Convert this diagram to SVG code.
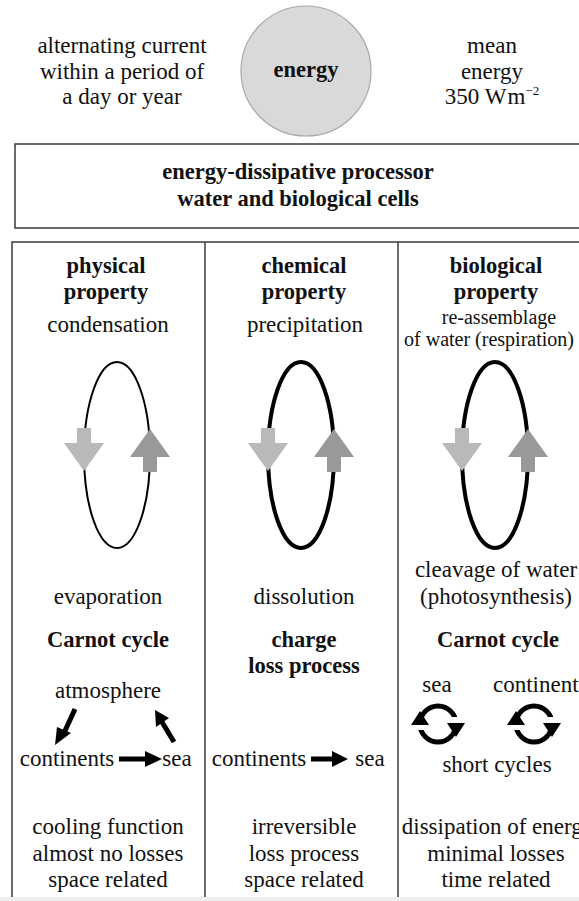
<svg xmlns="http://www.w3.org/2000/svg" width="579" height="901" viewBox="0 0 579 901">
<style>
text{font-family:'Liberation Serif','Times New Roman','DejaVu Serif',Times,serif;font-size:23px;fill:#111;text-anchor:middle}
.b{font-weight:bold;font-size:22.5px}
.s{font-size:20px}
.frame{fill:none;stroke:#3a3a3a;stroke-width:1.5}
.loop{fill:none;stroke:#000}
.dn{fill:#b9b9b9}
.up{fill:#999}
.arr{stroke:#000;stroke-width:5;fill:none}
.head{fill:#000}
.cyc{fill:none;stroke:#000;stroke-width:5}
</style>
<rect width="579" height="901" fill="#fff"/>

<g id="left-text">
<text x="122" y="53">alternating current</text>
<text x="122" y="79">within a period of</text>
<text x="122" y="104">a day or year</text>
</g>
<g id="energy">
<circle cx="306" cy="71" r="65" fill="#d9d9d9" stroke="#a8a8a8" stroke-width="1.2"/>
<text class="b" x="306" y="77">energy</text>
</g>
<g id="right-text">
<text x="492" y="53">mean</text>
<text x="492" y="79">energy</text>
<text x="492" y="104">350 W<tspan dx="1">m</tspan><tspan font-size="13" dy="-9">−2</tspan></text>
</g>

<g id="processor">
<rect class="frame" x="15" y="144" width="580" height="84"/>
<text class="b" x="298" y="179">energy-dissipative processor</text>
<text class="b" x="298" y="206">water and biological cells</text>
</g>

<g id="table">
<rect class="frame" x="12" y="242" width="600" height="680"/>
<line class="frame" x1="205" y1="242" x2="205" y2="901"/>
<line class="frame" x1="398" y1="242" x2="398" y2="901"/>
<rect x="0" y="897" width="579" height="4" fill="#eeeeee"/>
</g>

<g id="physical">
<text class="b" x="106" y="273">physical</text>
<text class="b" x="106" y="299">property</text>
<text x="108" y="332">condensation</text>
<ellipse class="loop" cx="117" cy="455" rx="33" ry="93" stroke-width="2"/>
<polygon class="dn" points="77,428 91,428 91,443 104,443 84,471 64,443 77,443"/>
<polygon class="up" points="150,429 170,457 157,457 157,472 143,472 143,457 130,457"/>
<text x="108" y="604">evaporation</text>
<text class="b" x="108" y="647">Carnot cycle</text>
<text x="108" y="698">atmosphere</text>
<text x="67" y="766">continents</text>
<text x="177" y="766">sea</text>
<text x="108" y="834">cooling function</text>
<text x="108" y="861">almost no losses</text>
<text x="108" y="887">space related</text>
</g>

<g id="chemical">
<text class="b" x="304" y="273">chemical</text>
<text class="b" x="304" y="299">property</text>
<text x="305" y="332">precipitation</text>
<ellipse class="loop" cx="301" cy="455" rx="33" ry="93" stroke-width="4"/>
<polygon class="dn" points="261,428 275,428 275,443 288,443 268,471 248,443 261,443"/>
<polygon class="up" points="334,429 354,457 341,457 341,472 327,472 327,457 314,457"/>
<text x="304" y="604">dissolution</text>
<text class="b" x="304" y="647">charge</text>
<text class="b" x="304" y="673">loss process</text>
<text x="259" y="766">continents</text>
<text x="370" y="766">sea</text>
<text x="304" y="834">irreversible</text>
<text x="304" y="861">loss process</text>
<text x="304" y="887">space related</text>
</g>

<g id="biological">
<text class="b" x="496" y="273">biological</text>
<text class="b" x="496" y="299">property</text>
<text class="s" x="499" y="324">re-assemblage</text>
<text class="s" x="489" y="346">of water (respiration)</text>
<ellipse class="loop" cx="495" cy="455" rx="33" ry="93" stroke-width="4"/>
<polygon class="dn" points="455,428 469,428 469,443 482,443 462,471 442,443 455,443"/>
<polygon class="up" points="528,429 548,457 535,457 535,472 521,472 521,457 508,457"/>
<text x="496" y="577">cleavage of water</text>
<text x="496" y="604">(photosynthesis)</text>
<text class="b" x="498" y="647">Carnot cycle</text>
<text x="437" y="692">sea</text>
<text x="493" y="692" style="text-anchor:start">continents</text>
<text x="497" y="772">short cycles</text>
<text x="498" y="834">dissipation of energy</text>
<text x="496" y="861">minimal losses</text>
<text x="496" y="887">time related</text>
</g>

<g id="connectors">
<line class="arr" x1="75" y1="709" x2="64" y2="733"/>
<polygon class="head" points="55,745 57,727 71,733"/>
<line class="arr" x1="174" y1="742" x2="162" y2="722"/>
<polygon class="head" points="155,710 169,718 156,727"/>
<line class="arr" x1="119" y1="759" x2="146" y2="759"/>
<polygon class="head" points="162,759 145,751 145,767"/>
<line class="arr" x1="311" y1="759" x2="334" y2="759"/>
<polygon class="head" points="348,759 332,751 332,767"/>
<circle class="cyc" cx="438" cy="724" r="18"/>
<rect x="416" y="724" width="8" height="6" fill="#fff"/>
<rect x="452" y="717" width="8" height="6" fill="#fff"/>
<polygon class="head" points="429,725 420,711 411,725"/>
<polygon class="head" points="447,723 456,737 465,723"/>
<circle class="cyc" cx="534" cy="724" r="18"/>
<rect x="512" y="724" width="8" height="6" fill="#fff"/>
<rect x="548" y="717" width="8" height="6" fill="#fff"/>
<polygon class="head" points="525,725 516,711 507,725"/>
<polygon class="head" points="543,723 552,737 561,723"/>
</g>
</svg>
